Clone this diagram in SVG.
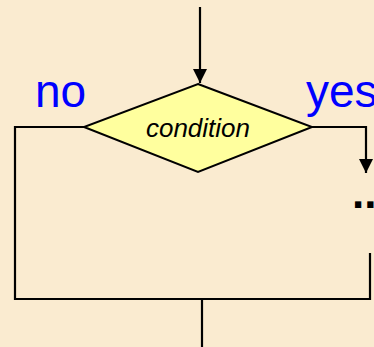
<svg xmlns="http://www.w3.org/2000/svg" width="374" height="347" viewBox="0 0 374 347">
  <defs>
    <marker id="arr" viewBox="0 0 14 15" refX="14" refY="7" markerWidth="14" markerHeight="15" markerUnits="userSpaceOnUse" orient="auto">
      <path d="M0,0 L14,7 L0,14 Z" fill="#000"/>
    </marker>
    <style>
      .ln { stroke:#000; stroke-width:2.2; fill:none; }
      .lbl { font-family:"Liberation Sans", Arial, sans-serif; fill:#0000FF; font-size:46px; }
    </style>
  </defs>
  <rect width="374" height="347" fill="#FAEBD0"/>
  <g id="connectors">
    <line class="ln" x1="200" y1="7" x2="200" y2="83" marker-end="url(#arr)"/>
    <polyline class="ln" points="84,127 15,127 15,299 370,299 370,253"/>
    <polyline class="ln" points="312,127 366,127 366,173" marker-end="url(#arr)"/>
    <line class="ln" x1="202" y1="299" x2="202" y2="347"/>
  </g>
  <g id="condition">
    <polygon points="198,84 312,127 198,172 84,127" fill="#FFFF9E" stroke="#000" stroke-width="2"/>
    <text x="198" y="137" text-anchor="middle" font-family="'Liberation Sans', Arial, sans-serif" font-style="italic" font-size="26" fill="#000">condition</text>
  </g>
  <g id="labels">
    <text class="lbl" x="35" y="107">no</text>
    <text class="lbl" x="306" y="107">yes</text>
  </g>
  <g id="dots">
    <text x="352" y="208" font-family="'Liberation Sans', Arial, sans-serif" font-weight="bold" font-size="44" fill="#000">...</text>
  </g>
</svg>
